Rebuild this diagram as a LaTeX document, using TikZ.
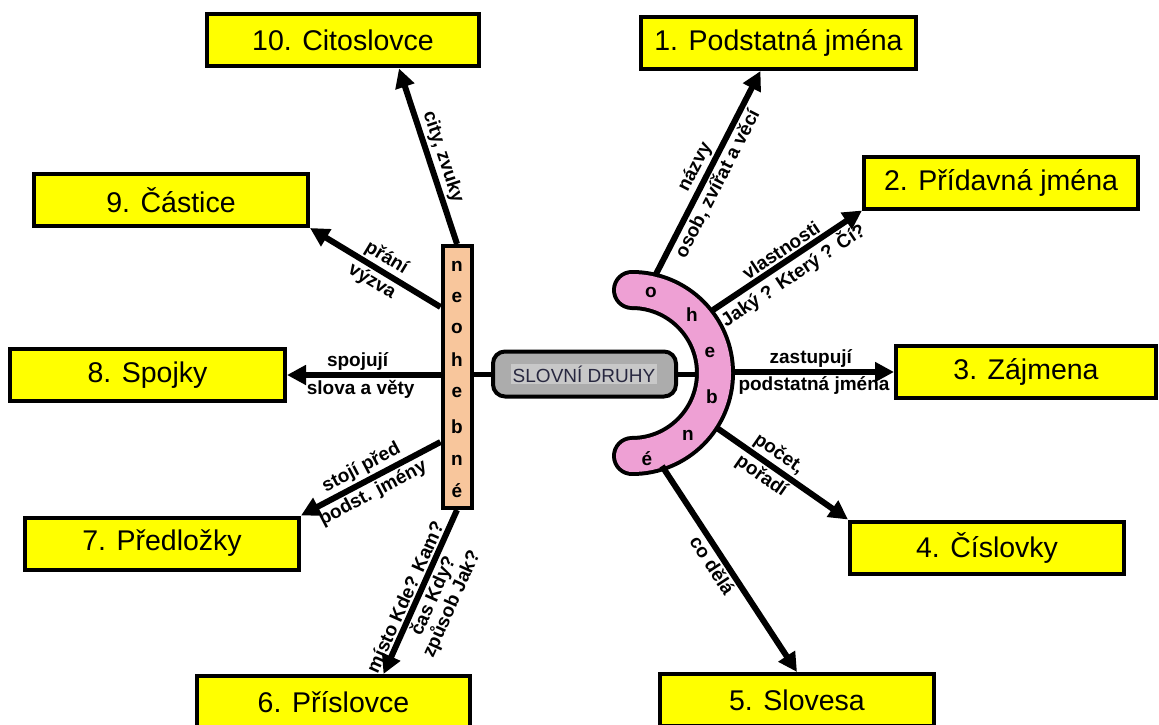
\documentclass[tikz,border=0pt]{standalone}
\usepackage{fontspec}
\setmainfont{Liberation Sans}
\usetikzlibrary{arrows.meta,calc}
\definecolor{boxyellow}{RGB}{255,255,0}
\definecolor{arcpink}{RGB}{238,160,212}
\definecolor{barpeach}{RGB}{248,198,156}
\definecolor{sdgray}{RGB}{172,172,172}
\definecolor{sdhl}{RGB}{200,200,200}
\definecolor{sdtext}{RGB}{40,40,64}
\begin{document}
\begin{tikzpicture}[x=1pt,y=-1pt,
  wbox/.style={draw=black, line width=4pt, fill=boxyellow, minimum height=52pt,
    inner sep=0pt, font=\fontsize{28.5}{30}\selectfont},
  letter/.style={font=\bfseries\fontsize{19}{20}\selectfont, inner sep=0pt},
  arr/.style={line width=6pt, -{Triangle[length=19pt,width=19pt]}},
  lab/.style={font=\bfseries\fontsize{19}{20}\selectfont, sloped, inner sep=2pt},
  conn/.style={line width=5pt}]
\useasboundingbox (0,0) rectangle (1159,725);

% word-class boxes
\node[wbox, minimum width=272pt] (b10) at (343,40.5) {10. Citoslovce};
\node[wbox, minimum width=275pt] (b1) at (778.5,43) {1. Podstatná jména};
\node[wbox, minimum width=274pt] (b2) at (1001,182.5) {2. Přídavná jména};
\node[wbox, minimum width=274pt] (b9) at (171,200) {9. Částice};
\node[wbox, minimum width=260pt] (b3) at (1026,372) {3. Zájmena};
\node[wbox, minimum width=275pt] (b8) at (147.5,375) {8. Spojky};
\node[wbox, minimum width=274pt] (b7) at (162,543.5) {7. Předložky};
\node[wbox, minimum width=274pt] (b4) at (987,547.5) {4. Číslovky};
\node[wbox, minimum width=273pt] (b6) at (333.5,702) {6. Příslovce};
\node[wbox, minimum width=274pt] (b5) at (797,700) {5. Slovesa};

% arc "ohebné"
\draw[line width=40pt, line cap=round] (632,290) arc[start angle=-90, end angle=90, radius=83];
\draw[line width=32pt, line cap=round, arcpink] (632,290) arc[start angle=-90, end angle=90, radius=83];
\node[letter] (o1) at (651,292) {o};
\node[letter] (o2) at (692,315) {h};
\node[letter] (o3) at (710,352) {e};
\node[letter] (o4) at (712,397) {b};
\node[letter] (o5) at (688,435) {n};
\node[letter] (o6) at (647,459) {é};
\coordinate (ain) at (698,374);
\coordinate (a1) at (655,276);
\coordinate (a2) at (713,310);
\coordinate (a3) at (734,372);
\coordinate (a4) at (717,428);
\coordinate (a5) at (662,466);

% bar "neohebné"
\node[draw, line width=4pt, fill=barpeach, minimum width=29pt, minimum height=262pt, inner sep=0pt] (bar) at (457,377) {};
\foreach \l/\y [count=\i] in {n/266,e/297,o/328,h/360,e/392,b/427,n/460,é/491}
  \node[letter] (bl\i) at (457,\y) {\l};

% centre node
\node[draw, line width=4pt, fill=sdgray, rounded corners=12pt, minimum width=183pt,
  minimum height=45pt, inner sep=0pt] (sd) at (584.5,374) {};
\node[fill=sdhl, inner sep=1.5pt, text=sdtext, font=\fontsize{19}{20}\selectfont] (sdt) at (584,374) {SLOVNÍ DRUHY};

\draw[conn] (bar.east |- sd.west) -- (sd.west);
\draw[conn] (sd.east) -- (ain);

% right side arrows
\draw[arr] (a1) -- node[lab, above, pos=0.5]{názvy} node[lab, below, pos=0.48]{osob, zvířat a věcí} ([xshift=-18pt]b1.south);
\draw[arr] (a2) -- node[lab, above, pos=0.5]{vlastnosti} node[lab, below, pos=0.48]{Jaký ? Který ? Čí?} (b2.south west);
\draw[arr] (a3) -- node[lab, above, pos=0.48]{zastupují} node[lab, below, pos=0.5]{podstatná jména} (b3.west);
\draw[arr] (a4) -- node[lab, above, pos=0.41]{počet,} node[lab, below, pos=0.40]{pořadí} (b4.north west);
\draw[arr] (a5) -- node[lab, below, pos=0.45]{co dělá} (b5.north);

% left side arrows
\draw[arr] (bar.north) -- node[lab, above, pos=0.47]{city, zvuky} ([xshift=56pt]b10.south);
\draw[arr] ([yshift=70pt]bar.west) -- node[lab, above, pos=0.47]{přání} node[lab, below, pos=0.47]{výzva} (b9.south east);
\draw[arr] (bar.west |- b8.east) -- node[lab, above, pos=0.54]{spojují} node[lab, below, pos=0.52]{slova a věty} (b8.east);
\draw[arr] ([yshift=-65pt]bar.west) -- node[lab, above, pos=0.52]{stojí před} node[lab, below, pos=0.53]{podst. jmény} (b7.north east);
\draw[arr] (bar.south) -- node[lab, above, pos=0.56]{místo Kde? Kam?} node[lab, below, pos=0.49, align=center]{čas Kdy?\\způsob Jak?} ([xshift=50pt]b6.north);
\end{tikzpicture}
\end{document}
